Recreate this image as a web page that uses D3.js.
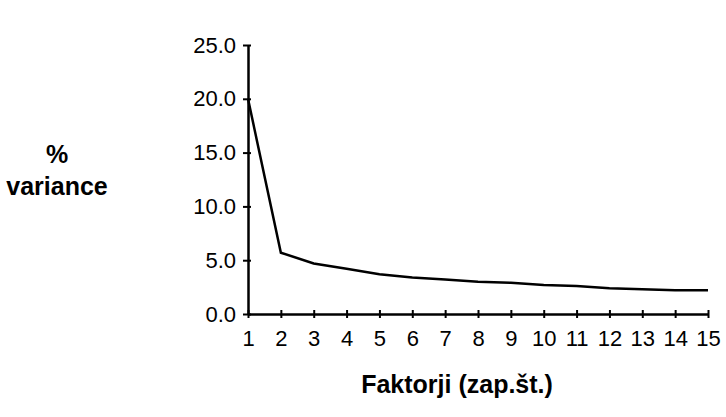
<!DOCTYPE html>
<html lang="en">
<head>
<meta charset="UTF-8">
<title>% variance po faktorjih</title>
<script src="https://cdn.jsdelivr.net/npm/d3@7"></script>
<style>
  body { margin: 0; background: #fff; }
  text { font-family: "Liberation Sans", Arial, sans-serif; fill: #000; }
</style>
</head>
<body>
<div id="chart"></div>
<script>
// data
var factors = [1, 2, 3, 4, 5, 6, 7, 8, 9, 10, 11, 12, 13, 14, 15];
var variance = [20.0, 5.7, 4.7, 4.2, 3.7, 3.4, 3.2, 3.0, 2.9, 2.7, 2.6, 2.4, 2.3, 2.2, 2.2];
var yTicks = [0, 5, 10, 15, 20, 25];

var W = 726, H = 417;
var margin = {top: 45, right: 18, bottom: 103, left: 248},
    width = W - margin.left - margin.right,
    height = H - margin.top - margin.bottom;

var svg = d3.select("#chart")
  .append("svg")
    .attr("width", W)
    .attr("height", H)
  .append("g")
    .attr("transform", "translate(" + margin.left + "," + margin.top + ")");

var x = d3.scaleLinear()
  .domain([1, 15])
  .range([0, width]);

var y = d3.scaleLinear()
  .domain([0, 25])
  .range([height, 0]);

// x axis, ticks cross the line
var xAxis = svg.append("g")
  .attr("transform", "translate(0," + height + ")")
  .call(d3.axisBottom(x).tickValues(factors).tickFormat(d3.format("d")).tickSize(0).tickPadding(16));
xAxis.selectAll(".tick").append("line")
  .attr("y1", -4).attr("y2", 4)
  .attr("stroke", "#000").attr("stroke-width", 2);

// y axis
var yAxis = svg.append("g")
  .call(d3.axisLeft(y).tickValues(yTicks).tickFormat(d3.format(".1f")).tickSize(0).tickPadding(12));
yAxis.selectAll(".tick").append("line")
  .attr("x1", -5).attr("x2", 3)
  .attr("stroke", "#000").attr("stroke-width", 2);

svg.selectAll(".domain")
  .attr("stroke", "#000")
  .attr("stroke-width", 2.5);
svg.selectAll(".tick text")
  .style("font-size", "22px")
  .style("font-family", "'Liberation Sans', Arial, sans-serif");

// the line
var line = d3.line()
  .x(function(d, i) { return x(factors[i]); })
  .y(function(d) { return y(d); });

svg.append("path")
  .datum(variance)
  .attr("d", line)
  .attr("fill", "none")
  .attr("stroke", "#000")
  .attr("stroke-width", 2.5)
  .attr("stroke-linejoin", "miter");

// axis titles
svg.append("text")
  .attr("x", 457 - margin.left)
  .attr("y", height + 79)
  .attr("text-anchor", "middle")
  .style("font-size", "25px")
  .style("font-weight", "bold")
  .text("Faktorji (zap.št.)");

var yl = svg.append("text")
  .attr("text-anchor", "middle")
  .style("font-size", "25px")
  .style("font-weight", "bold");
yl.append("tspan").attr("x", 57 - margin.left).attr("y", 163 - margin.top).text("%");
yl.append("tspan").attr("x", 57 - margin.left).attr("y", 195 - margin.top).text("variance");
</script>
</body>
</html>
